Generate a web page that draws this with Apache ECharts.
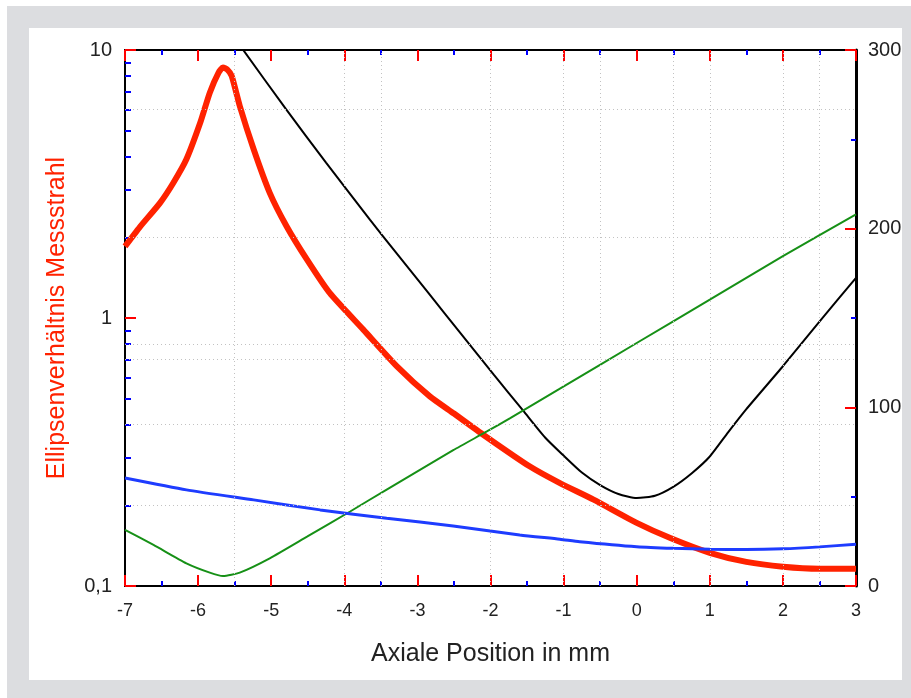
<!DOCTYPE html>
<html>
<head>
<meta charset="utf-8">
<script src="https://cdn.jsdelivr.net/npm/echarts@6/dist/echarts.min.js"></script>
<style>
html, body { margin: 0; padding: 0; background: #fff; }
#chart { width: 911px; height: 698px; }
</style>
</head>
<body>
<div id="chart"></div>
<script>
// values: [axial position mm, value]
let red_data = [
    [-7.0, 1.85], [-6.8, 2.18], [-6.52, 2.69], [-6.34, 3.19], [-6.16, 3.91],
    [-5.97, 5.36], [-5.84, 6.93], [-5.72, 8.23], [-5.66, 8.6], [-5.6, 8.45],
    [-5.54, 8.0], [-5.43, 6.18], [-5.24, 4.26], [-5.02, 2.93], [-4.79, 2.2],
    [-4.51, 1.65], [-4.2, 1.24], [-3.74, 0.905], [-3.28, 0.66], [-2.83, 0.51],
    [-2.5, 0.44], [-2.1, 0.367], [-1.46, 0.279], [-1.05, 0.242], [-0.59, 0.21],
    [0.0, 0.172], [0.46, 0.151], [1.0, 0.133], [1.5, 0.123], [2.0, 0.118],
    [2.5, 0.116], [3.0, 0.116]
]
let black_data = [
    [-5.4, 301], [-4.8, 267], [-4.25, 237], [-3.65, 205], [-3.3, 187],
    [-2.85, 164], [-2.4, 141], [-1.95, 118], [-1.55, 98], [-1.25, 83],
    [-1.0, 73], [-0.75, 63.5], [-0.5, 56.5], [-0.25, 51.5], [0.0, 49.2],
    [0.25, 50.5], [0.5, 55.5], [0.75, 63], [1.0, 72.5], [1.25, 86],
    [1.5, 99], [2.0, 123], [2.5, 148], [3.0, 172.5]
]
let green_data = [
    [-7.0, 31.4], [-6.61, 23.0], [-6.16, 12.7], [-5.84, 7.5], [-5.66, 5.6],
    [-5.43, 7.5], [-5.02, 15.5], [-4.51, 27.6], [-3.92, 41.7], [-3.42, 54],
    [-2.51, 76], [-2.05, 86.5], [-1.73, 94], [-1.05, 110.5], [0.0, 136.0],
    [1.0, 160.3], [2.0, 184.6], [3.0, 208.0]
]
let blue_data = [
    [-7.0, 60.4], [-6.16, 53.8], [-5.24, 48.2], [-4.33, 42.6], [-3.42, 37.9],
    [-2.51, 33.6], [-1.6, 28.6], [-1.05, 26.2], [-0.78, 24.8], [0.0, 22.0],
    [0.5, 21.1], [1.0, 20.6], [1.5, 20.4], [2.0, 20.8], [2.5, 21.9], [3.0, 23.4]
]
let grid_x = [-5.5, -4, -3.5, -2, -1, -0.5, 0.5, 1, 2, 2.5]
let grid_y = [6, 2, 0.8, 0.7, 0.4, 0.2]
let left_labels = [0.1, 1, 10]

const font = 'Liberation Sans'
const frame = '#dcdde0'

function x_axis(pos, labels) {
    return {
        type: 'value',
        position: pos,
        min: -7,
        max: 3,
        interval: 1,
        axisLine: {show: true, onZero: false, lineStyle: {color: '#000', width: 2}},
        axisTick: {show: true, inside: true, length: 11, lineStyle: {color: '#f00', width: 2}},
        minorTick: {show: true, splitNumber: 2, length: 5, lineStyle: {color: '#00f', width: 2}},
        splitLine: {show: false},
        axisLabel: {show: labels, fontSize: 18, color: '#222', margin: 16, fontFamily: font},
        name: labels ? 'Axiale Position in mm' : '',
        nameLocation: 'middle',
        nameGap: 56,
        nameTextStyle: {fontSize: 25, color: '#222', fontFamily: font}
    }
}

let option = {
    backgroundColor: '#ffffff',
    animation: false,
    grid: {left: 125, right: 55, top: 50, bottom: 112},
    xAxis: [x_axis('bottom', true), x_axis('top', false)],
    yAxis: [
        {
            type: 'log',
            logBase: 10,
            min: 0.1,
            max: 10,
            position: 'left',
            name: 'Ellipsenverhältnis Messstrahl',
            nameLocation: 'middle',
            nameGap: 55,
            nameTextStyle: {fontSize: 25, color: '#ff2200', fontFamily: font},
            axisLine: {show: true, onZero: false, lineStyle: {color: '#000', width: 2}},
            axisTick: {show: true, inside: true, length: 11, lineStyle: {color: '#f00', width: 2}},
            minorTick: {show: true, splitNumber: 9, length: 6, lineStyle: {color: '#00f', width: 2}},
            splitLine: {show: false},
            axisLabel: {
                fontSize: 20, color: '#222', margin: 13, fontFamily: font,
                formatter: function (v) {
                    return left_labels.indexOf(+v) >= 0 ? String(v).replace('.', ',') : ''
                }
            }
        },
        {
            type: 'value',
            min: 0,
            max: 300,
            interval: 100,
            position: 'right',
            axisLine: {show: true, onZero: false, lineStyle: {color: '#000', width: 3}},
            axisTick: {show: true, inside: true, length: 11, lineStyle: {color: '#f00', width: 2}},
            minorTick: {show: true, splitNumber: 2, length: 5, lineStyle: {color: '#00f', width: 2}},
            splitLine: {show: false},
            axisLabel: {fontSize: 20, color: '#222', margin: 12, fontFamily: font}
        }
    ],
    graphic: [
        {type: 'rect', shape: {x: 7, y: 6, width: 904, height: 22}, style: {fill: frame}, z: 100, silent: true},
        {type: 'rect', shape: {x: 7, y: 680, width: 904, height: 18}, style: {fill: frame}, z: 100, silent: true},
        {type: 'rect', shape: {x: 7, y: 6, width: 22, height: 692}, style: {fill: frame}, z: 100, silent: true},
        {type: 'rect', shape: {x: 902, y: 6, width: 9, height: 692}, style: {fill: frame}, z: 100, silent: true}
    ],
    series: [
        {
            type: 'line',
            xAxisIndex: 0,
            yAxisIndex: 0,
            data: [],
            markLine: {
                silent: true,
                symbol: ['none', 'none'],
                label: {show: false},
                lineStyle: {color: '#c2c2c2', type: [1, 3], width: 1},
                data: grid_x.map(v => ({xAxis: v})).concat(grid_y.map(v => ({yAxis: v})))
            }
        },
        {
            name: 'Ellipsenverhaeltnis',
            type: 'line',
            xAxisIndex: 0,
            yAxisIndex: 0,
            data: red_data,
            showSymbol: false,
            smooth: 0.2,
            lineStyle: {color: '#ff2200', width: 6}
        },
        {
            type: 'line',
            xAxisIndex: 0,
            yAxisIndex: 1,
            data: black_data,
            showSymbol: false,
            smooth: 0.2,
            lineStyle: {color: '#000000', width: 2}
        },
        {
            type: 'line',
            xAxisIndex: 0,
            yAxisIndex: 1,
            data: green_data,
            showSymbol: false,
            smooth: 0.2,
            lineStyle: {color: '#169016', width: 2}
        },
        {
            type: 'line',
            xAxisIndex: 0,
            yAxisIndex: 1,
            data: blue_data,
            showSymbol: false,
            smooth: 0.2,
            lineStyle: {color: '#1e3cff', width: 3}
        }
    ]
}

const dom = document.getElementById('chart')
const myChart = echarts.init(dom)
myChart.setOption(option, true)
</script>
</body>
</html>
